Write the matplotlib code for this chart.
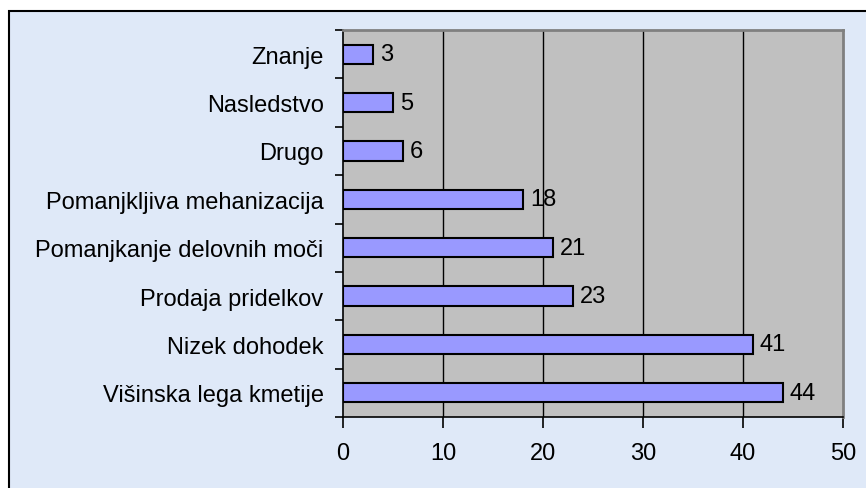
import matplotlib.pyplot as plt
from matplotlib.patches import Rectangle
from matplotlib.ticker import FixedLocator

# data (bottom to top)
categories = ["Višinska lega kmetije", "Nizek dohodek", "Prodaja pridelkov",
              "Pomanjkanje delovnih moči", "Pomanjkljiva mehanizacija",
              "Drugo", "Nasledstvo", "Znanje"]
values = [44, 41, 23, 21, 18, 6, 5, 3]
xticks = [0, 10, 20, 30, 40, 50]

plt.rcParams['font.family'] = ['Liberation Sans', 'DejaVu Sans']
fs = 17

fig = plt.figure(figsize=(8.66, 4.89), dpi=100)
fig.patch.set_facecolor('white')

# chart background with black frame
bg = Rectangle((9 / 866, -0.05), 1.0, 1 - 12 / 489 + 0.05, transform=fig.transFigure,
               facecolor='#dfe9f8', edgecolor='black', linewidth=1.5, zorder=-10)
fig.patches.append(bg)

ax = fig.add_axes([343 / 866, 1 - 418 / 489, 500 / 866, 387 / 489])
ax.set_facecolor('#c0c0c0')

y = range(len(categories))
ax.barh(y, values, height=0.4, color='#9999ff', edgecolor='black', linewidth=1.5, zorder=3)

for i, v in enumerate(values):
    ax.text(v + 0.7, i, str(v), va='center', ha='left', fontsize=fs, zorder=4)

ax.set_xlim(0, 50)
ax.set_ylim(-0.5, len(categories) - 0.5)
ax.set_xticks(xticks)
ax.set_xticklabels([str(t) for t in xticks], fontsize=fs)
ax.set_yticks(list(y))
ax.set_yticklabels(categories, fontsize=fs)
ax.yaxis.set_minor_locator(FixedLocator([i - 0.5 for i in range(len(categories) + 1)]))
ax.tick_params(axis='y', which='major', length=0, pad=14)
ax.tick_params(axis='y', which='minor', length=6, width=1.2, direction='out')
ax.tick_params(axis='x', length=8, width=1.2, direction='out', pad=10)

for t in xticks[1:-1]:
    ax.axvline(t, color='black', linewidth=1, zorder=1)

ax.spines['left'].set_color('black')
ax.spines['bottom'].set_color('black')
ax.spines['left'].set_linewidth(1.2)
ax.spines['bottom'].set_linewidth(1.2)
ax.spines['top'].set_color('#808080')
ax.spines['right'].set_color('#808080')
ax.spines['top'].set_linewidth(2)
ax.spines['right'].set_linewidth(2)

fig.savefig('out.png', dpi=100)
